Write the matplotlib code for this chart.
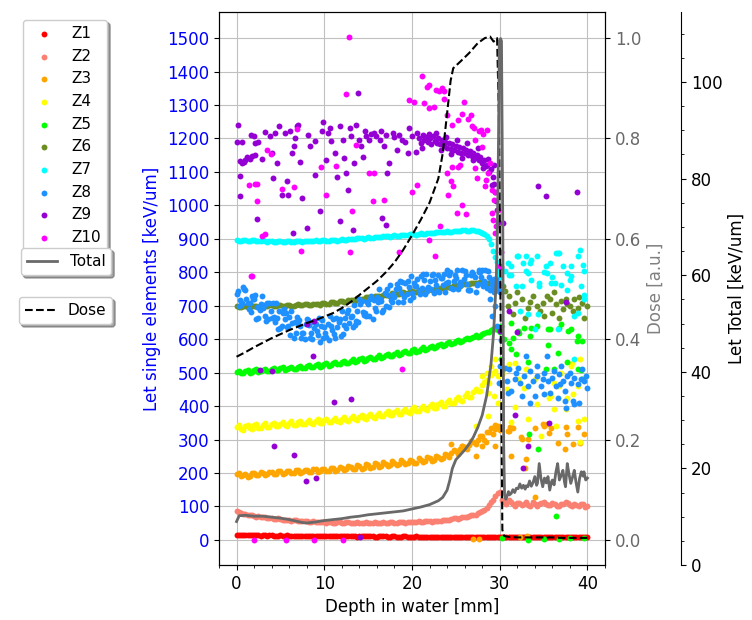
import matplotlib
matplotlib.use("Agg")
import matplotlib.pyplot as plt
import numpy as np
from matplotlib.ticker import MultipleLocator

# depth sampling of the dense bands (mm)
depth = np.arange(0, 30.5, 0.5)
depth_b = np.arange(0.25, 30.0, 0.5)
depth_c = np.arange(0.125, 30.0, 0.5)
depth_d = np.arange(0.375, 30.0, 0.5)
depth_tail = np.arange(30.5, 40.5, 0.5)
depth_tail_b = np.arange(30.25, 40.0, 0.5)

z1 = [16, 15, 16, 14, 15, 14, 15, 13, 14, 13, 14, 13, 13, 12, 13, 12, 13, 12, 12, 13,
      12, 11, 12, 12, 11, 12, 11, 12, 11, 11, 12, 11, 10, 11, 11, 10, 11, 10, 11, 10,
      10, 11, 10, 10, 9, 10, 10, 9, 10, 9, 9, 10, 9, 8, 9, 9, 8, 9, 8, 9, 8]
z1_b = [15, 16, 14, 15, 15, 13, 14, 14, 13, 13, 13, 14, 12, 13, 12, 13, 12, 13, 11, 12,
        12, 12, 11, 12, 11, 11, 12, 10, 11, 12, 11, 10, 11, 11, 10, 11, 10, 10, 11, 9,
        10, 10, 9, 10, 9, 10, 9, 9, 10, 9, 9, 8, 9, 9, 8, 9, 8, 9, 8, 8]
z1_tail = [8, 9, 8, 9, 8, 9, 9, 8, 9, 8, 9, 8, 9, 9, 8, 9, 8, 9, 8, 9]
z1_tail_b = [9, 8, 9, 8, 9, 8, 8, 9, 8, 9, 8, 9, 8, 8, 9, 8, 9, 8, 9, 8]

z2 = [86, 80, 76, 74, 71, 70, 67, 66, 64, 63, 62, 60, 59, 59, 57, 57, 56, 55, 55, 54,
      53, 54, 52, 53, 52, 53, 51, 52, 52, 51, 52, 52, 51, 52, 52, 53, 52, 53, 53, 54,
      54, 55, 55, 56, 57, 57, 58, 59, 60, 62, 64, 66, 68, 71, 75, 79, 86, 96, 112, 130, 143]
z2_b = [83, 77, 73, 73, 69, 67, 68, 64, 62, 64, 60, 61, 57, 59, 56, 58, 54, 56, 53, 55,
        52, 54, 51, 54, 51, 53, 50, 53, 51, 53, 51, 53, 50, 53, 51, 54, 52, 54, 52, 55,
        53, 56, 54, 57, 55, 58, 57, 61, 60, 64, 63, 68, 68, 74, 75, 84, 88, 104, 118, 140]
z2_tail = [112, 118, 106, 110, 104, 112, 100, 108, 106, 114, 104, 110, 102, 108, 112,
           104, 106, 100, 108, 102]
z2_tail_b = [120, 108, 114, 102, 110, 106, 104, 112, 100, 110, 106, 104, 108, 100, 106,
             110, 102, 104, 106, 98]

z3 = [196, 190, 198, 192, 200, 195, 201, 196, 203, 198, 205, 199, 206, 201, 208, 202, 209, 204, 211, 205,
      212, 207, 214, 208, 216, 211, 218, 213, 221, 215, 223, 218, 226, 220, 228, 223, 231, 226, 234, 229,
      237, 231, 240, 235, 244, 239, 249, 244, 254, 260, 266, 271, 279, 284, 294, 300, 312, 322, 336, 344, 330]
z3_b = [200, 193, 188, 199, 194, 203, 193, 202, 196, 206, 197, 207, 199, 209, 200, 210, 202, 212, 203, 213,
        205, 216, 206, 218, 209, 220, 211, 223, 213, 226, 216, 229, 218, 232, 221, 235, 224, 238, 226, 240,
        229, 244, 233, 248, 236, 252, 241, 258, 248, 268, 258, 282, 272, 296, 286, 310, 300, 322, 318, 340]
z3_tail_x = [29.5, 30.9, 31.0, 31.2, 31.5, 32.5, 32.4, 33.0, 32.9, 33.2, 34.0, 34.9, 35.1, 35.4, 35.9,
             36.6, 37.4, 37.7, 37.5, 38.3, 38.9, 39.2, 39.6, 28.4, 28.0, 29.5, 31.3, 34.0, 32.3, 27.0,
             27.6, 33.1, 35.6, 25.7, 27.3, 24.5]
z3_tail = [331, 326, 325, 337, 336, 301, 307, 242, 214, 301, 336, 346, 341, 346, 336,
           291, 271, 316, 337, 286, 337, 291, 316, 292, 280, 281, 251, 127, 8, 3,
           3, 12, 320, 280, 251, 286]

z4 = [338, 332, 340, 334, 342, 336, 344, 338, 345, 340, 347, 342, 349, 344, 351, 346, 353, 348, 355, 350,
      357, 352, 359, 355, 362, 357, 365, 360, 368, 363, 371, 366, 374, 370, 378, 373, 382, 377, 386, 381,
      390, 385, 394, 390, 399, 395, 405, 401, 412, 408, 420, 417, 430, 428, 442, 445, 462, 478, 492, 505, 520]
z4_b = [342, 330, 344, 333, 346, 335, 348, 337, 350, 339, 352, 340, 354, 343, 356, 345, 358, 347, 360, 349,
        362, 351, 365, 353, 368, 356, 371, 359, 374, 362, 377, 365, 380, 369, 384, 372, 388, 376, 392, 380,
        396, 384, 400, 389, 405, 394, 411, 400, 418, 408, 427, 416, 438, 428, 452, 444, 472, 468, 498, 490]
z4_tail_x = [31.0, 33.0, 31.7, 34.0, 35.5, 36.8, 38.3, 38.9, 39.5, 39.6, 38.9, 39.2, 37.6, 36.2, 31.3,
             33.2, 34.7, 36.4, 30.8, 30.4, 32.1, 38.1, 39.1, 35.6, 31.7, 38.2, 34.3, 35.8, 37.7, 36.2,
             29.8, 29.3, 28.7, 28.0, 29.5, 28.7, 28.5, 29.0, 32.8, 37.0, 27.3]
z4_tail = [525, 510, 396, 480, 435, 460, 435, 460, 480, 361, 356, 293, 391, 470, 351,
           361, 311, 341, 450, 500, 480, 520, 540, 425, 530, 530, 406, 430, 425, 391,
           410, 430, 440, 490, 540, 371, 500, 520, 455, 500, 340]

z5 = [502, 498, 505, 500, 507, 503, 509, 505, 511, 507, 513, 509, 515, 511, 517, 513, 519, 516, 522, 518,
      525, 521, 528, 525, 532, 528, 536, 532, 540, 536, 544, 540, 548, 545, 553, 549, 557, 554, 562, 558,
      567, 563, 572, 568, 577, 574, 583, 580, 589, 586, 595, 593, 601, 600, 608, 607, 615, 620, 626, 630, 620]
z5_b = [506, 499, 508, 502, 510, 504, 512, 506, 514, 508, 516, 510, 518, 512, 520, 515, 523, 517, 526, 520,
        529, 523, 532, 526, 536, 530, 540, 534, 544, 538, 548, 542, 552, 547, 557, 551, 561, 556, 566, 560,
        571, 566, 576, 571, 581, 577, 587, 582, 593, 589, 598, 596, 605, 603, 612, 610, 619, 622, 630, 626]
z5_tail_x = [31.3, 32.2, 33.6, 35.5, 37.0, 38.1, 38.8, 31.1, 31.8, 33.2, 35.3, 36.2, 37.7, 39.3, 39.4,
             33.3, 34.4, 36.4, 30.3, 33.2, 35.1, 36.8, 38.0, 39.6, 32.1, 32.8, 35.7, 36.8, 37.8, 38.9,
             39.4, 31.5, 33.4, 35.5, 31.3, 38.9, 36.6, 30.2, 30.5, 34.2, 30.1]
z5_tail = [649, 619, 634, 629, 644, 629, 594, 589, 555, 532, 511, 510, 532, 508, 480,
           316, 273, 71, 5, 1, 3, 3, 5, 5, 624, 634, 629, 634, 624, 609,
           594, 604, 609, 584, 570, 510, 560, 640, 600, 640, 540]

z6 = [698, 695, 699, 696, 700, 697, 700, 698, 701, 698, 702, 699, 702, 700, 704, 701, 704, 702, 706, 703,
      707, 705, 710, 708, 713, 711, 717, 715, 721, 719, 725, 723, 729, 727, 732, 730, 736, 734, 740, 738,
      743, 741, 746, 744, 749, 748, 753, 752, 757, 756, 761, 760, 765, 764, 768, 767, 770, 768, 765, 758, 745]
z6_b = [696, 698, 697, 699, 698, 700, 698, 701, 699, 702, 700, 703, 700, 703, 702, 705, 703, 706, 704, 708,
        706, 711, 709, 714, 712, 718, 716, 722, 720, 726, 724, 730, 728, 733, 731, 737, 735, 741, 739, 744,
        742, 747, 745, 750, 748, 754, 752, 758, 756, 762, 760, 766, 764, 769, 767, 771, 769, 768, 762, 752]
z6_tail_x = [31.1, 31.7, 32.5, 33.2, 33.8, 34.3, 34.9, 35.7, 36.4, 36.8, 37.2, 37.7, 38.3, 38.9, 39.6,
             39.4, 31.5, 32.9, 35.1, 36.0, 37.6, 38.5, 30.6, 30.9, 32.0, 33.5, 34.6, 35.4, 36.2, 37.0,
             38.0, 39.0, 39.9, 30.4]
z6_tail = [729, 709, 719, 694, 729, 699, 709, 719, 704, 664, 689, 704, 684, 694, 664,
           709, 674, 664, 669, 679, 719, 719, 745, 700, 740, 710, 685, 730, 740, 715,
           698, 725, 700, 760]

z7 = [897, 893, 896, 892, 895, 892, 895, 891, 894, 891, 894, 890, 894, 891, 894, 891, 894, 892, 895, 892,
      896, 893, 897, 894, 898, 896, 900, 898, 902, 900, 904, 902, 906, 904, 908, 906, 910, 908, 912, 910,
      914, 912, 916, 915, 918, 917, 920, 919, 922, 921, 924, 923, 925, 924, 925, 922, 918, 908, 885, 845, 790]
z7_b = [894, 896, 893, 895, 892, 894, 892, 894, 891, 893, 891, 893, 891, 893, 892, 894, 892, 894, 893, 895,
        894, 896, 895, 897, 897, 899, 899, 901, 901, 903, 903, 905, 905, 907, 907, 909, 909, 911, 911, 913,
        913, 915, 915, 917, 917, 919, 919, 921, 921, 923, 923, 925, 924, 926, 924, 921, 914, 898, 865, 820]
z7_tail_x = [29.7, 29.8, 29.9, 30.0, 30.1, 30.2, 30.9, 31.3, 32.0, 32.7, 33.0, 33.4, 33.6, 34.3, 35.3,
             35.4, 36.4, 36.7, 37.2, 37.7, 38.1, 39.1, 39.5, 39.6, 33.6, 34.5, 35.9, 37.0, 38.1, 31.1,
             32.5, 33.2, 35.0, 36.0, 37.7, 39.6, 32.1, 35.7, 36.6, 38.9, 31.3, 33.0, 34.5, 36.3, 38.0,
             39.3, 38.9, 38.5, 33.2, 34.4, 36.6, 38.5, 39.6, 32.3, 34.0, 31.8, 30.6]
z7_tail = [830, 812, 798, 785, 765, 745, 828, 818, 848, 828, 848, 828, 838, 848, 818,
           798, 858, 858, 818, 798, 818, 868, 823, 803, 778, 758, 768, 763, 788, 793,
           758, 798, 800, 785, 748, 733, 848, 828, 858, 848, 793, 803, 768, 768, 778,
           758, 678, 669, 674, 674, 629, 540, 719, 684, 629, 760, 805]

z8 = [735, 702, 748, 707, 720, 663, 692, 708, 663, 708, 632, 659, 666, 603, 645, 618, 661, 617, 644, 593,
      637, 599, 661, 636, 683, 634, 666, 643, 719, 673, 706, 660, 725, 714, 698, 762, 727, 753, 712, 775,
      739, 759, 789, 736, 773, 738, 792, 762, 807, 752, 784, 770, 803, 746, 795, 766, 808, 753, 777, 746, 740]
z8_b = [698, 755, 707, 728, 661, 706, 668, 709, 666, 631, 679, 636, 683, 618, 639, 600, 641, 650, 612, 657,
        607, 639, 605, 661, 642, 687, 637, 683, 715, 670, 719, 693, 749, 688, 733, 712, 766, 737, 768, 716,
        769, 745, 794, 743, 791, 761, 783, 740, 791, 775, 749, 806, 765, 792, 741, 802, 775, 786, 748, 764]
z8_c = [744, 709, 721, 680, 731, 688, 702, 659, 709, 663, 640, 678, 612, 650, 657, 617, 658, 602, 624, 640,
        617, 668, 615, 651, 616, 678, 669, 653, 706, 679, 668, 718, 710, 681, 749, 717, 750, 775, 726, 756,
        726, 779, 753, 794, 749, 776, 742, 796, 772, 751, 807, 761, 793, 747, 785, 801, 760, 805, 763, 772]
z8_d = [717, 750, 689, 720, 697, 729, 655, 685, 652, 684, 689, 640, 648, 665, 604, 644, 605, 633, 662, 603,
        646, 628, 663, 609, 663, 649, 701, 650, 680, 712, 728, 685, 720, 739, 695, 736, 712, 771, 735, 789,
        758, 735, 778, 755, 794, 743, 782, 769, 802, 793, 763, 781, 748, 802, 763, 787, 808, 747, 780, 744]
z8_tail_x = [27.6, 28.3, 28.9, 29.1, 29.3, 29.5, 29.7, 30.2, 30.0, 29.9, 31.1, 31.7, 32.3, 32.8, 33.2,
             33.8, 34.3, 34.7, 35.1, 35.5, 35.7, 36.0, 36.4, 36.8, 37.2, 37.4, 37.7, 38.1, 38.5, 38.9,
             39.3, 39.6, 39.8, 31.3, 32.5, 34.0, 35.1, 36.6, 38.3, 39.0, 32.1, 34.3, 37.0, 39.4, 35.4,
             33.0, 30.9, 30.6, 37.4, 38.5, 31.9, 33.5, 36.2, 38.0, 39.9, 34.9, 36.9, 30.8, 37.5, 33.5,
             29.8, 29.6]
z8_tail = [808, 768, 719, 669, 740, 700, 640, 599, 520, 470, 510, 480, 470, 490, 460,
           475, 490, 460, 500, 475, 440, 485, 460, 495, 475, 445, 490, 470, 485, 465,
           480, 475, 490, 445, 430, 430, 435, 425, 415, 410, 515, 520, 520, 510, 550,
           550, 440, 515, 415, 405, 500, 505, 505, 500, 455, 480, 465, 475, 395, 410,
           760, 780]

z9_x = [0.15, 0.1, 0.6, 0.4, 0.6, 1.0, 1.2, 1.5, 1.8, 2.1, 0.8, 1.6, 2.0, 2.1, 2.5, 0.45, 0.4, 2.3,
        2.9, 3.3, 3.8, 4.0, 4.2, 4.4, 4.8, 4.6, 5.2, 5.5, 5.7, 6.1, 6.3, 6.5, 6.7, 6.9, 5.9, 6.4,
        7.0, 7.2, 7.5, 8.0, 8.2, 8.4, 8.9, 8.9, 9.5, 9.7, 9.9, 10.2, 10.4, 10.8, 10.6, 11.2, 11.4,
        11.8, 11.8, 12.1, 12.3, 12.5, 12.7, 13.1, 12.9, 13.4, 13.3, 13.6, 13.8, 14.0, 14.2, 14.4,
        14.6, 14.8, 15.1, 15.3, 15.7, 15.9, 16.3, 16.5, 16.8, 17.0, 17.2, 17.4, 16.6, 17.0, 17.8,
        18.0, 18.3, 18.5, 18.9, 19.2, 19.5, 19.7, 20.0, 20.4, 20.6,
        20.8, 21.0, 21.2, 21.4, 21.6, 21.8, 22.0, 22.2, 22.4, 22.6, 22.8, 23.0, 23.2, 23.4, 23.6,
        23.8, 24.0, 24.2, 24.4, 24.6, 24.8, 25.0, 25.2, 25.4, 25.6, 25.8, 26.0, 26.2, 26.4, 26.6,
        26.8, 27.0, 27.2, 27.4, 27.6, 27.8, 28.0, 28.2, 28.4, 28.6, 28.8, 29.0, 29.2, 29.4, 29.5,
        29.6, 29.7, 29.8,
        21.1, 21.9, 22.7, 23.3, 23.9, 24.5, 25.1, 25.7, 26.3, 26.9, 27.5, 28.1, 28.7, 29.1, 29.3,
        8.0, 8.85, 8.7, 2.7, 4.0, 11.1, 13.0, 4.3, 6.6, 7.9, 9.0, 14.1, 30.0, 30.1, 30.4, 31.1,
        32.0, 31.7, 35.6, 33.2, 32.6, 37.6, 34.4, 35.3, 38.8]
z9 = [1240, 1188, 1188, 1134, 1126, 1136, 1145, 1140, 1148, 1150, 1130, 1211, 1206, 1186, 1188, 1088, 1027, 958,
      1138, 1220, 1206, 1156, 1081, 1215, 1236, 1128, 1032, 1216, 1072, 1221, 1156, 1176, 1200, 1236, 1032, 917,
      1241, 1131, 1022, 932, 1211, 1176, 1191, 1091, 982, 1221, 1250, 1136, 1216, 1191, 1230, 1156, 1086,
      952, 1236, 1196, 1141, 1096, 1047, 1206, 1232, 1128, 927, 1241, 1335, 1196, 1176, 1146,
      1222, 1206, 1196, 1212, 1216, 1206, 1196, 1221, 1176, 1211, 1096, 1126, 962, 942, 1216,
      1205, 1166, 1211, 1196, 1190, 1156, 1231, 1206, 1161, 1215,
      1200, 1185, 1210, 1195, 1205, 1188, 1200, 1182, 1206, 1192, 1186, 1200, 1182, 1195, 1178,
      1190, 1172, 1186, 1168, 1182, 1165, 1178, 1160, 1174, 1158, 1170, 1156, 1166, 1152, 1163,
      1148, 1158, 1142, 1150, 1135, 1145, 1128, 1136, 1118, 1122, 1100, 1108, 1085, 1065, 1040,
      1012, 985, 950,
      1170, 1212, 1215, 1165, 1205, 1155, 1195, 1142, 1185, 1135, 1170, 1112, 1140, 1060, 1120,
      646, 654, 550, 507, 505, 411, 420, 281, 254, 177, 185, 8, 624, 817, 947, 683,
      620, 373, 349, 280, 214, 710, 1057, 1027, 1039]

z10_x = [12.8, 12.5, 1.6, 1.8, 3.5, 3.9, 1.4, 2.3, 2.1, 2.3, 2.9, 3.3, 5.2, 6.5, 6.9, 7.4, 9.6, 10.2,
         11.3, 13.2, 13.6, 12.9, 15.1, 15.7, 15.6, 16.8, 18.5, 19.7, 20.2, 20.0, 20.6, 21.1, 21.7,
         21.9, 21.4, 21.9, 22.5, 22.7, 23.1, 23.6, 23.4, 23.7, 24.0, 24.6, 25.3, 25.9, 25.7, 26.4,
         26.7, 26.8, 27.1, 27.6, 27.9, 28.1, 24.0, 24.4, 24.6, 24.1, 24.7, 25.5, 25.7, 26.2, 25.1,
         25.3, 23.2, 22.6, 21.9, 27.2, 27.2, 27.4, 28.3, 28.4, 28.7, 28.9, 28.6, 28.0, 29.1, 29.3,
         29.1, 29.5, 29.6, 29.2, 29.8, 29.5, 30.0, 30.2, 2.0, 5.6, 8.85, 12.1, 18.9]
z10 = [1504, 1332, 790, 788, 1166, 1155, 1062, 1065, 1065, 1014, 908, 915, 1049, 1054, 1228, 863, 1114, 1032,
       1118, 982, 1181, 860, 1096, 1096, 1014, 1017, 860, 1315, 1308, 1039, 1062, 1388, 1353,
       1360, 1305, 1290, 1295, 1345, 1343, 1343, 1350, 1318, 1270, 1241, 1256, 1310, 1272, 1257,
       1269, 1236, 1230, 1221, 1226, 1212, 1096, 1074, 1114, 1032, 1057, 1121, 1002, 973, 977,
       1116, 937, 848, 897, 1196, 1111, 1082, 1057, 1075, 1096, 1126, 1226, 1175, 1047, 1017,
       977, 1040, 937, 957, 987, 917, 818, 860, 1, 1, 1, 1, 512]

# total LET (right outer axis, keV/um)
total_x = [0.0, 0.3, 1, 2, 3, 4, 5, 6, 7, 7.5, 8, 9, 10, 11, 12, 13, 14, 15, 16, 17, 18, 19, 20,
           21, 22, 23, 23.5, 24, 24.3, 24.6, 25.0, 25.5, 26.0, 26.5, 27.0, 27.5, 28.0, 28.5, 29.0,
           29.3, 29.6, 29.7, 29.8, 29.9, 29.95, 30.1, 30.2, 30.35, 30.45, 30.55,
           30.7, 30.8, 31.0, 31.1, 31.3, 31.5, 31.7, 31.9, 32.1, 32.3, 32.5, 32.7, 32.9, 33.0,
           33.2, 33.4, 33.6, 33.8, 34.0, 34.2, 34.3, 34.5, 34.7, 34.9, 35.1, 35.3, 35.5, 35.7,
           35.9, 36.0, 36.2, 36.4, 36.6, 36.8, 37.0, 37.2, 37.4, 37.5, 37.7, 37.9, 38.1, 38.3,
           38.5, 38.7, 38.9, 39.1, 39.3, 39.5, 39.6, 39.8, 40.0]
total = [9.0, 10.2, 10.3, 10.1, 10.1, 9.9, 9.7, 9.4, 9.0, 8.8, 8.7, 8.9, 9.2, 9.4, 9.6, 9.9, 10.1,
         10.4, 10.6, 10.8, 11.0, 11.2, 11.6, 12.0, 12.5, 13.3, 14.0, 15.5, 17.5, 20.0, 21.8, 22.8,
         23.8, 25.0, 26.5, 28.5, 31.0, 35.0, 41.5, 48.0, 59.0, 66.0, 78.0, 95.0, 108.5, 109.0,
         108.5, 70.0, 25.0, 14.5,
         13.6, 14.1, 15.2, 14.5, 14.8, 15.6, 15.0, 15.9, 15.8, 16.8, 15.9, 16.5, 15.7, 16.4,
         16.2, 17.4, 16.3, 17.1, 18.3, 16.5, 16.9, 21.0, 17.9, 16.2, 18.0, 17.0, 18.3, 15.5,
         17.2, 17.6, 16.6, 19.2, 21.0, 17.6, 18.5, 19.6, 17.0, 16.2, 21.0, 18.8, 16.9, 18.2,
         19.6, 17.1, 15.1, 17.9, 19.3, 18.4, 19.3, 17.6, 18.0]

# dose (a.u.)
dose_x = [0, 1, 2, 3, 4, 5, 6, 7, 8, 9, 10, 11, 12, 13, 14, 15, 16, 17, 18, 19, 20, 21, 22, 23,
          23.5, 24, 24.4, 24.7, 25.5, 26.5, 27.5, 28.3, 28.9, 29.3, 29.7, 29.9, 30.1, 30.3, 30.5,
          31, 32, 33, 34, 35, 36, 37, 38, 39, 40]
dose = [0.365, 0.374, 0.384, 0.393, 0.402, 0.41, 0.418, 0.425, 0.432, 0.438, 0.445, 0.452, 0.462,
        0.474, 0.488, 0.502, 0.516, 0.533, 0.553, 0.578, 0.607, 0.638, 0.672, 0.72, 0.77, 0.85,
        0.915, 0.94, 0.953, 0.97, 0.99, 1.0, 1.003, 0.993, 1.0, 0.85, 0.45, 0.02, 0.008,
        0.006, 0.005, 0.005, 0.005, 0.005, 0.005, 0.004, 0.004, 0.004, 0.004]

names = ["Z1", "Z2", "Z3", "Z4", "Z5", "Z6", "Z7", "Z8", "Z9", "Z10"]
colors = ["red", "salmon", "orange", "yellow", "lime", "olivedrab", "cyan",
          "dodgerblue", "darkviolet", "magenta"]

fig = plt.figure(figsize=(7.52, 6.2), dpi=100)
ax = fig.add_axes([219 / 752, 55 / 620, 386 / 752, 553 / 620])
ax.set_axisbelow(True)

series = [
    (np.r_[depth, depth_b, depth_tail, depth_tail_b], z1 + z1_b + z1_tail + z1_tail_b),
    (np.r_[depth, depth_b, depth_tail, depth_tail_b], z2 + z2_b + z2_tail + z2_tail_b),
    (np.r_[depth, depth_b, z3_tail_x], z3 + z3_b + z3_tail),
    (np.r_[depth, depth_b, z4_tail_x], z4 + z4_b + z4_tail),
    (np.r_[depth, depth_b, z5_tail_x], z5 + z5_b + z5_tail),
    (np.r_[depth, depth_b, z6_tail_x], z6 + z6_b + z6_tail),
    (np.r_[depth, depth_b, z7_tail_x], z7 + z7_b + z7_tail),
    (np.r_[depth, depth_b, depth_c, depth_d, z8_tail_x], z8 + z8_b + z8_c + z8_d + z8_tail),
    (z9_x, z9),
    (z10_x, z10),
]
pts = []
for (xs, ys), name, c in zip(series, names, colors):
    pts.append(ax.scatter(xs, ys, s=18, color=c, linewidths=0, label=name))

ax.set_xlim(-2, 42)
ax.set_ylim(-75, 1578)
ax.set_yticks(range(0, 1600, 100))
ax.xaxis.set_minor_locator(MultipleLocator(2))
ax.grid(True, color="#c0c0c0")
ax.tick_params(labelsize=12)
ax.tick_params(axis="y", labelcolor="blue")
ax.set_xlabel("Depth in water [mm]", fontsize=12)
ax.set_ylabel("Let single elements [keV/um]", fontsize=12, color="blue")

ax2 = ax.twinx()
(dose_line,) = ax2.plot(dose_x, dose, "k--", lw=1.5, label="Dose")
ax2.set_ylim(-0.05, 1.052)
ax2.tick_params(labelsize=12, labelcolor="dimgray")
ax2.set_ylabel("Dose [a.u.]", fontsize=12, color="gray")

ax3 = ax.twinx()
ax3.spines["right"].set_position(("axes", 1 + 76 / 386))
for side in ["left", "top", "bottom"]:
    ax3.spines[side].set_visible(False)
(total_line,) = ax3.plot(total_x, total, color="dimgray", lw=2, label="Total")
ax3.set_ylim(0, 114.5)
ax3.yaxis.set_major_locator(MultipleLocator(20))
ax3.yaxis.set_minor_locator(MultipleLocator(5))
ax3.tick_params(labelsize=12)
ax3.set_ylabel("Let Total [keV/um]", fontsize=12)

fig.legend(handles=pts, loc="upper center", bbox_to_anchor=(65 / 752, 1 - 20 / 620),
           borderaxespad=0, shadow=True, fontsize=11)
fig.legend(handles=[total_line], loc="upper center", bbox_to_anchor=(66 / 752, 1 - 248 / 620),
           borderaxespad=0, shadow=True, fontsize=11)
fig.legend(handles=[dose_line], loc="upper center", bbox_to_anchor=(65.5 / 752, 1 - 297 / 620),
           borderaxespad=0, shadow=True, fontsize=11)

fig.savefig("out.png", dpi=100)
